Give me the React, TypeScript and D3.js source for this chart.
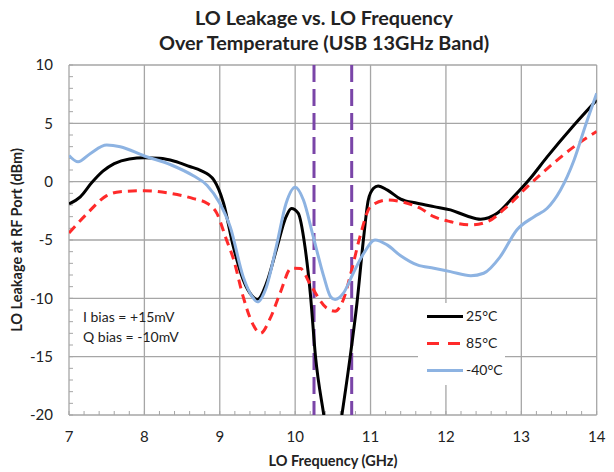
import React from "react";
import * as d3 from "d3";

const xTicks = [7, 8, 9, 10, 11, 12, 13, 14];
const yTicks = [10, 5, 0, -5, -10, -15, -20];
const markerFreqs = [10.25, 10.75];

const freq25 = [7.0, 7.15, 7.3, 7.45, 7.6, 7.8, 8.0, 8.2, 8.4, 8.6, 8.75, 8.92, 9.05, 9.18, 9.31, 9.43, 9.5, 9.62, 9.75, 9.88, 9.95, 10.04, 10.13, 10.2, 10.27, 10.38, 10.45, 10.5, 10.55, 10.62, 10.73, 10.82, 10.91, 10.97, 11.04, 11.1, 11.22, 11.4, 11.62, 11.84, 12.06, 12.28, 12.46, 12.68, 12.9, 13.12, 13.34, 13.7, 14.0];
const val25 = [-1.9, -1.3, -0.1, 0.9, 1.55, 1.95, 2.05, 2.0, 1.75, 1.3, 0.95, 0.15, -1.85, -5.57, -8.4, -9.8, -10.1, -8.7, -5.85, -3.0, -2.3, -2.7, -5.57, -9.5, -15.0, -20.0, -23.0, -24.0, -23.0, -20.0, -15.0, -10.4, -4.7, -1.57, -0.57, -0.37, -0.7, -1.5, -1.85, -2.14, -2.42, -2.94, -3.22, -2.71, -1.28, 0.29, 2.1, 4.86, 7.0];

const freq85 = [7.0, 7.23, 7.5, 7.68, 8.0, 8.35, 8.65, 8.83, 8.96, 9.09, 9.18, 9.31, 9.43, 9.54, 9.67, 9.8, 9.95, 10.07, 10.2, 10.42, 10.53, 10.64, 10.75, 10.86, 11.0, 11.22, 11.4, 11.66, 11.84, 12.06, 12.33, 12.55, 12.81, 13.08, 13.34, 13.7, 14.0];
const val85 = [-4.4, -2.8, -1.2, -0.86, -0.77, -1.0, -1.45, -1.85, -2.7, -5.0, -6.6, -9.86, -12.1, -13.0, -11.7, -9.56, -7.42, -7.45, -8.8, -10.85, -11.1, -10.1, -7.57, -4.71, -2.14, -1.57, -1.71, -2.28, -3.0, -3.43, -3.71, -3.43, -2.14, -0.43, 1.1, 3.0, 4.3];

const freqM40 = [7.0, 7.12, 7.28, 7.5, 7.68, 8.0, 8.35, 8.65, 8.83, 9.0, 9.14, 9.31, 9.43, 9.5, 9.62, 9.75, 9.88, 10.0, 10.11, 10.24, 10.38, 10.47, 10.53, 10.64, 10.77, 10.91, 11.06, 11.22, 11.4, 11.62, 11.84, 12.06, 12.33, 12.5, 12.72, 12.94, 13.17, 13.34, 13.52, 13.7, 13.85, 14.0];
const valM40 = [2.25, 1.7, 2.4, 3.14, 3.0, 2.2, 1.45, 0.5, -0.3, -1.85, -3.9, -8.14, -9.86, -10.3, -9.0, -5.57, -1.85, -0.48, -1.57, -4.71, -8.14, -9.86, -10.1, -9.56, -7.85, -6.14, -5.0, -5.42, -6.35, -7.14, -7.42, -7.71, -8.06, -7.85, -6.43, -4.14, -3.0, -2.3, -0.71, 1.86, 4.8, 7.57];

const seriesNames = ["25°C", "85°C", "-40°C"];

const W = 614, H = 472;
const M = { left: 69, right: 596.7, top: 65, bottom: 415 };
const FONT = "Lato, 'Noto Sans', sans-serif";

export default function App() {
  const x = d3.scaleLinear().domain([7, 14]).range([M.left, M.right]);
  const y = d3.scaleLinear().domain([-20, 10]).range([M.bottom, M.top]);
  const line = d3.line<[number, number]>().x(d => x(d[0])).y(d => y(d[1])).curve(d3.curveMonotoneX);
  const mk = (f: number[], v: number[]) => line(f.map((fv, i) => [fv, v[i]] as [number, number])) || "";
  const series = [
    { name: seriesNames[0], d: mk(freq25, val25), color: "#000000", dash: undefined as string | undefined },
    { name: seriesNames[1], d: mk(freq85, val85), color: "#FF2A2A", dash: "9,6" },
    { name: seriesNames[2], d: mk(freqM40, valM40), color: "#8DB3E2", dash: undefined },
  ];
  const minorY = d3.range(-20, 10.01, 1);
  const minorX = d3.range(7, 14.01, 0.2);
  const grid = "#A6A6A6";
  const legendRows = [316.5, 343.5, 370.5];
  return (
    <svg width={W} height={H} style={{ position: "absolute", left: 0, top: 0 }} fontFamily={FONT}>
      <rect width={W} height={H} fill="#fff" />
      <defs>
        <clipPath id="plot">
          <rect x={M.left} y={M.top} width={M.right - M.left} height={M.bottom - M.top} />
        </clipPath>
      </defs>
      {xTicks.map(t => (
        <line key={"gx" + t} x1={x(t)} x2={x(t)} y1={M.top} y2={M.bottom} stroke={grid} strokeWidth={1.3} />
      ))}
      {yTicks.map(t => (
        <line key={"gy" + t} x1={M.left} x2={M.right} y1={y(t)} y2={y(t)} stroke={grid} strokeWidth={1.3} />
      ))}
      {minorY.map(t => (
        <line key={"my" + t} x1={M.left} x2={M.left + 4} y1={y(t)} y2={y(t)} stroke={grid} strokeWidth={1} />
      ))}
      {minorX.map(t => (
        <line key={"mx" + t} x1={x(t)} x2={x(t)} y1={M.bottom} y2={M.bottom - 4} stroke={grid} strokeWidth={1} />
      ))}
      {yTicks.map(t => (
        <text key={"ty" + t} x={53} y={y(t)} dy="0.35em" textAnchor="end" fontSize={15} fill="#222">{t}</text>
      ))}
      {xTicks.map(t => (
        <text key={"tx" + t} x={x(t)} y={442} textAnchor="middle" fontSize={15} fill="#222">{t}</text>
      ))}
      {markerFreqs.map(f => (
        <line key={"m" + f} x1={x(f)} x2={x(f)} y1={M.top} y2={M.bottom} stroke="#7A45A8" strokeWidth={3} strokeDasharray="17,7" />
      ))}
      <g clipPath="url(#plot)">
        {series.map(s => (
          <path key={s.name} d={s.d} fill="none" stroke={s.color} strokeWidth={3} strokeDasharray={s.dash} strokeLinejoin="round" />
        ))}
      </g>
      <text x={83} y={322} fontSize={14} fill="#222">I bias  = +15mV</text>
      <text x={83} y={342} fontSize={14} fill="#222">Q bias = -10mV</text>
      <rect x={418} y={303} width={87} height={82} fill="#fff" />
      {series.map((s, i) => (
        <g key={"lg" + s.name}>
          <line x1={427} x2={463} y1={legendRows[i]} y2={legendRows[i]} stroke={s.color} strokeWidth={3} strokeDasharray={s.dash ? "12,9" : undefined} />
          <text x={466} y={legendRows[i]} dy="0.35em" fontSize={14} fill="#222">{s.name}</text>
        </g>
      ))}
      <text x={324} y={25} textAnchor="middle" fontSize={19.8} fontWeight="bold" fill="#222">LO Leakage vs. LO Frequency</text>
      <text x={324} y={50} textAnchor="middle" fontSize={19.8} fontWeight="bold" fill="#222">Over Temperature (USB 13GHz Band)</text>
      <text x={333} y={466} textAnchor="middle" fontSize={14.5} fontWeight="bold" fill="#222">LO Frequency (GHz)</text>
      <text transform={`translate(22,${(M.top + M.bottom) / 2}) rotate(-90)`} textAnchor="middle" fontSize={14.5} fontWeight="bold" fill="#222">LO Leakage at RF Port (dBm)</text>
    </svg>
  );
}
